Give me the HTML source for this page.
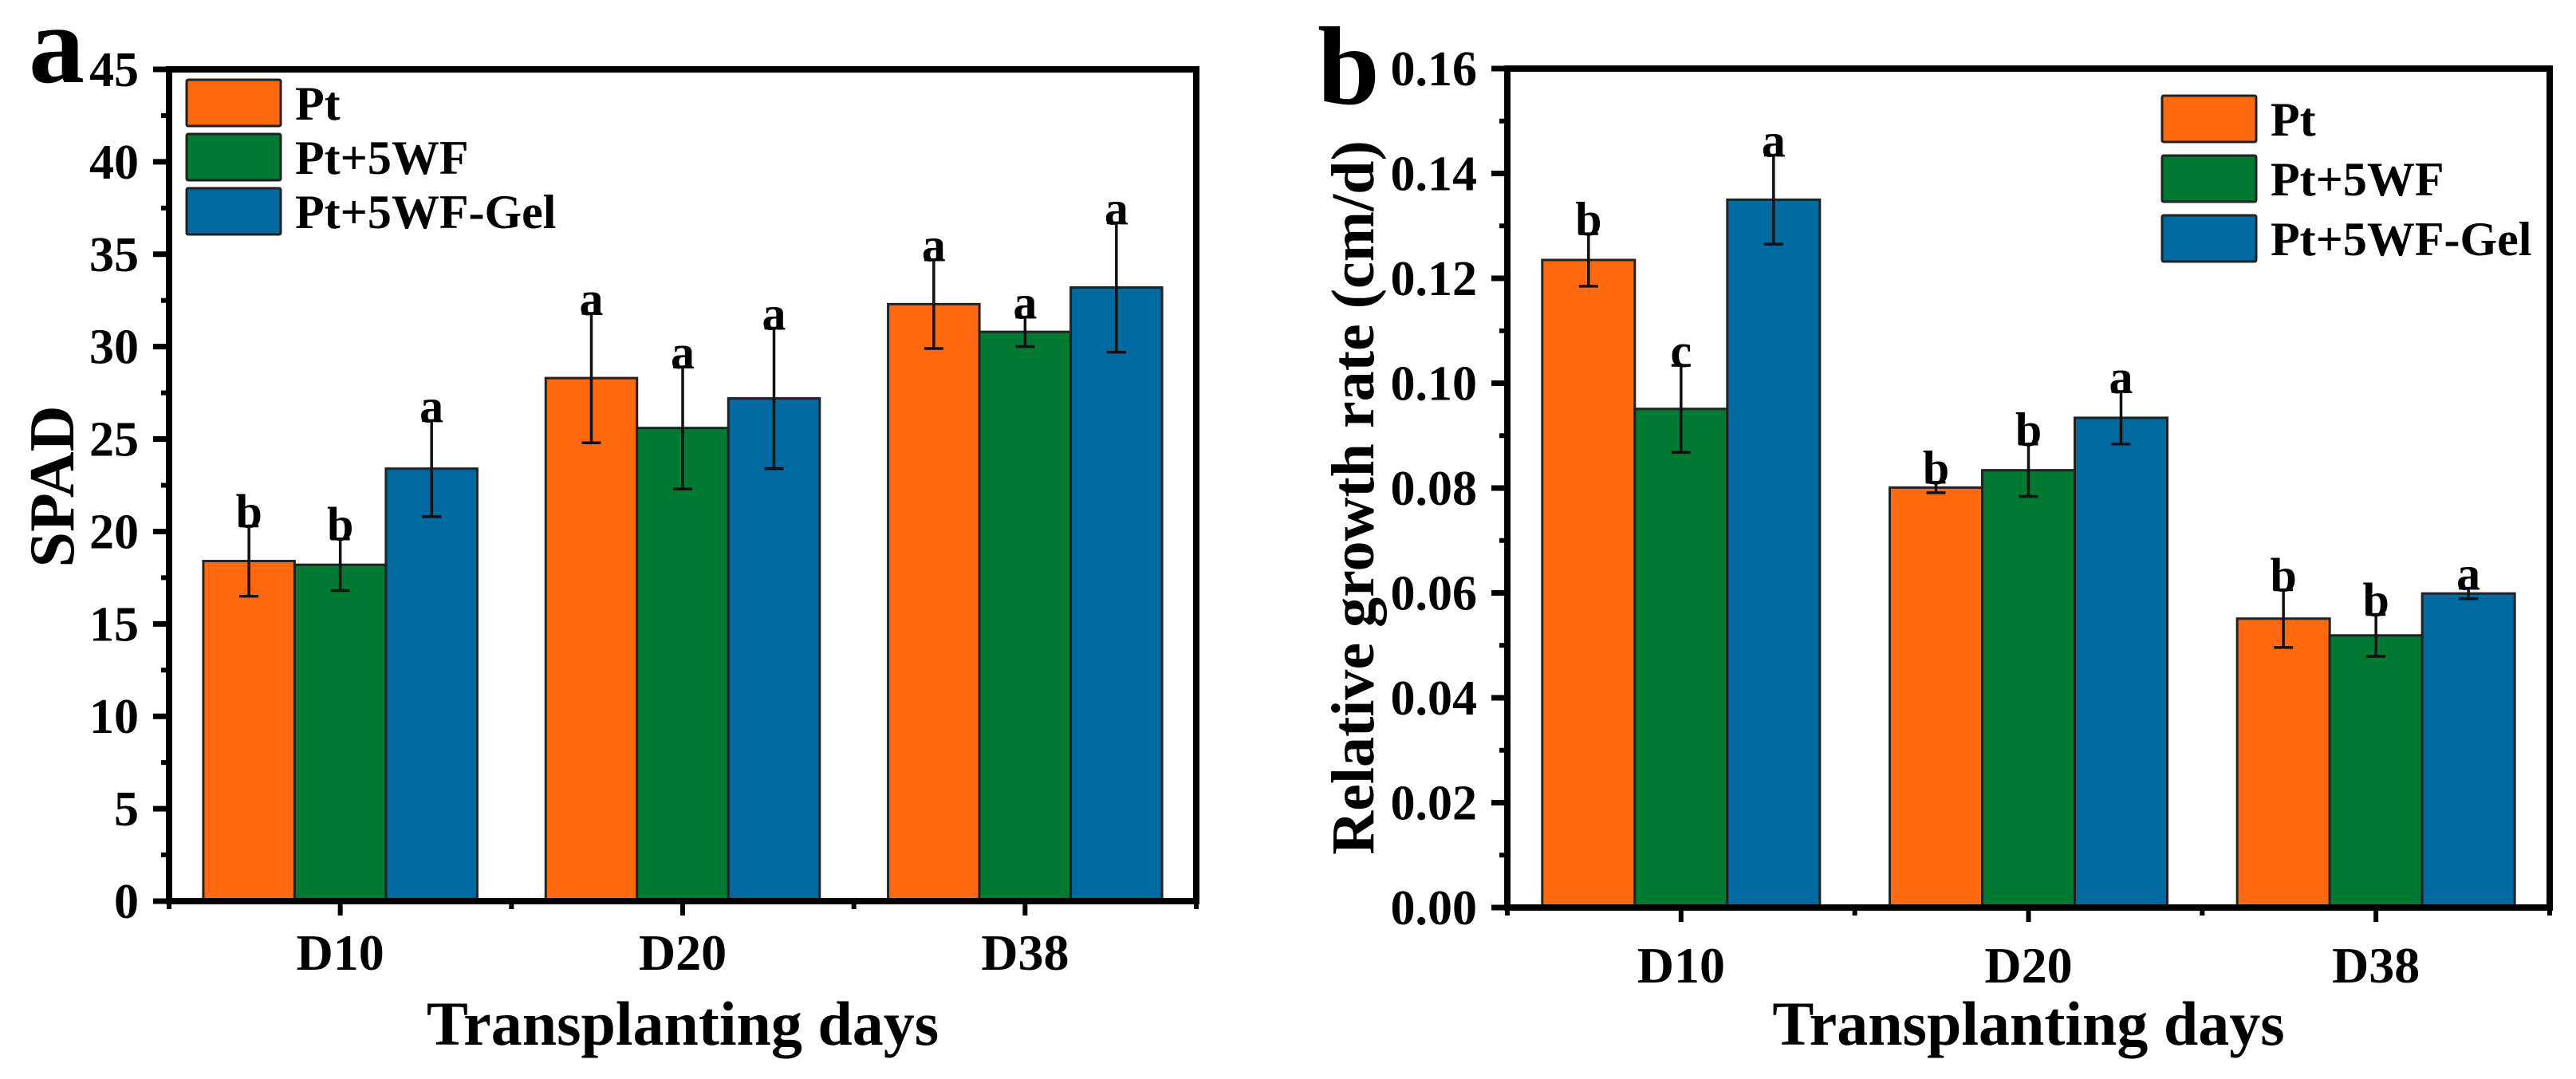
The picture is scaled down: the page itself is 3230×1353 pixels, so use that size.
<!DOCTYPE html>
<html><head><meta charset="utf-8">
<style>
html,body{margin:0;padding:0;background:#fff;}
svg{display:block;font-family:"Liberation Serif",serif;font-weight:bold;}
</style></head>
<body>
<svg id="fig" width="3230" height="1353" viewBox="0 0 3230 1353" xmlns="http://www.w3.org/2000/svg">
<g id="panelA"></g>
<g id="panelB"></g>
</svg>
<script>
const categories = ["D10", "D20", "D38"];
const seriesNames = ["Pt", "Pt+5WF", "Pt+5WF-Gel"];
const seriesColors = ["#FF6A10", "#007A33", "#0069A0"];

const spadPt = [18.4, 28.3, 32.3];
const spadWF = [18.2, 25.6, 30.8];
const spadGel = [23.4, 27.2, 33.2];
const spadErrPt = [1.9, 3.5, 2.4];
const spadErrWF = [1.4, 3.3, 0.8];
const spadErrGel = [2.6, 3.8, 3.5];
const spadLetters = [["b","a","a"],["b","a","a"],["a","a","a"]];
const spadTicks = [0,5,10,15,20,25,30,35,40,45];
const spadTickLabels = ["0","5","10","15","20","25","30","35","40","45"];

const rgrPt = [0.1235, 0.0801, 0.0551];
const rgrWF = [0.0951, 0.0834, 0.0519];
const rgrGel = [0.1350, 0.0934, 0.0599];
const rgrErrPt = [0.0050, 0.0010, 0.0055];
const rgrErrWF = [0.0083, 0.0050, 0.0040];
const rgrErrGel = [0.0085, 0.0050, 0.0010];
const rgrLetters = [["b","b","b"],["c","b","b"],["a","a","a"]];
const rgrTicks = [0,0.02,0.04,0.06,0.08,0.10,0.12,0.14,0.16];
const rgrTickLabels = ["0.00","0.02","0.04","0.06","0.08","0.10","0.12","0.14","0.16"];

const NS = "http://www.w3.org/2000/svg";
function mk(tag, attrs, parent){
  const e = document.createElementNS(NS, tag);
  for (const k in attrs) e.setAttribute(k, attrs[k]);
  parent.appendChild(e);
  return e;
}

function drawPanel(g, cfg){
  const L=cfg.left, R=cfg.right, T=cfg.top, B=cfg.bottom;
  const y = v => B - (v - cfg.ymin)/(cfg.ymax - cfg.ymin)*(B - T);
  const groupW = (R - L)/3;
  const xc = i => L + groupW*(i+0.5);
  const bw = cfg.barW;
  const vals = [cfg.s1, cfg.s2, cfg.s3];
  const errs = [cfg.e1, cfg.e2, cfg.e3];
  for (let s=0;s<3;s++){
    for (let i=0;i<3;i++){
      const x0 = xc(i) + (s-1.5)*bw;
      const r = mk("rect",{x:x0,y:y(vals[s][i]),width:bw,height:y(cfg.ymin)-y(vals[s][i]),fill:seriesColors[s],stroke:"#222","stroke-width":3},g);
      
      
    }
  }
  for (let s=0;s<3;s++){
    for (let i=0;i<3;i++){
      const cx = xc(i) + (s-1)*bw;
      const top = y(vals[s][i]+errs[s][i]), bot = y(vals[s][i]-errs[s][i]);
      const eg = mk("g",{stroke:"#111","stroke-width":3.5},g);
      
      
      mk("line",{x1:cx,y1:top,x2:cx,y2:bot},eg);
      mk("line",{x1:cx-12,y1:top,x2:cx+12,y2:top},eg);
      mk("line",{x1:cx-12,y1:bot,x2:cx+12,y2:bot},eg);
      const t = mk("text",{x:cx,y:top+2,"text-anchor":"middle","font-size":60,fill:"#000"},g);
      t.textContent = cfg.letters[s][i];
      
      
    }
  }
  const fr = mk("rect",{x:L,y:T,width:R-L,height:B-T,fill:"none",stroke:"#000","stroke-width":8},g);
  
  
  const yt = mk("g",{},g);
  
  
  for (let k=0;k<cfg.ticks.length;k++){
    const v = cfg.ticks[k], yy = y(v);
    mk("line",{x1:L-20,y1:yy,x2:L,y2:yy,stroke:"#000","stroke-width":7},yt);
    if (k<cfg.ticks.length-1){
      const vm = (v + cfg.ticks[k+1])/2;
      mk("line",{x1:L-10,y1:y(vm),x2:L,y2:y(vm),stroke:"#000","stroke-width":6},yt);
    }
    const t = mk("text",{x:L-38,y:yy+21,"text-anchor":"end","font-size":62,fill:"#000"},yt);
    t.textContent = cfg.tickLabels[k];
    
    
  }
  const xt = mk("g",{},g);
  
  
  for (let i=0;i<3;i++){
    mk("line",{x1:xc(i),y1:B,x2:xc(i),y2:B+18,stroke:"#000","stroke-width":6},xt);
    const t = mk("text",{x:xc(i),y:cfg.catY,"text-anchor":"middle","font-size":64,fill:"#000"},xt);
    t.textContent = categories[i];
    
    
  }
  for (let i=0;i<=3;i++){
    mk("line",{x1:L+groupW*i,y1:B,x2:L+groupW*i,y2:B+10,stroke:"#000","stroke-width":6},xt);
  }
  const xtT = mk("text",{x:(L+R)/2,y:cfg.xTitleY,"text-anchor":"middle","font-size":78,fill:"#000"},g);
  xtT.textContent = "Transplanting days";
  
  
  const ytT = mk("text",{x:0,y:0,"text-anchor":"middle","font-size":cfg.yTitleSize,fill:"#000",transform:"translate("+cfg.yTitleX+","+cfg.yTitleY+") rotate(-90)"},g);
  ytT.textContent = cfg.yTitle;
  
  
  const lg = mk("g",{},g);
  
  
  for (let s=0;s<3;s++){
    const yy = cfg.legY + s*cfg.legStep;
    const le = mk("g",{},lg);
    
    
    mk("rect",{x:cfg.legX,y:yy,width:118,height:58,fill:seriesColors[s],stroke:"#222","stroke-width":3,rx:2},le);
    const t = mk("text",{x:cfg.legX+136,y:yy+50,"font-size":60,fill:"#000"},le);
    t.textContent = seriesNames[s];
  }
  const pl = mk("text",{x:cfg.labelX,y:cfg.labelY,"font-size":140,fill:"#000"},g);
  pl.textContent = cfg.label;
  
  
}

drawPanel(document.getElementById("panelA"), {
  left:212, right:1500, top:87, bottom:1130, ymin:0, ymax:45, barW:114.5,
  s1:spadPt, s2:spadWF, s3:spadGel, e1:spadErrPt, e2:spadErrWF, e3:spadErrGel,
  letters:spadLetters, ticks:spadTicks, tickLabels:spadTickLabels,
  catY:1216, xTitleY:1310, yTitle:"SPAD", yTitleX:92, yTitleY:610, yTitleSize:80,
  legX:234, legY:100, legStep:68, label:"a", labelX:36, labelY:103
});
drawPanel(document.getElementById("panelB"), {
  left:1890, right:3197, top:86, bottom:1138, ymin:0, ymax:0.16, barW:116,
  s1:rgrPt, s2:rgrWF, s3:rgrGel, e1:rgrErrPt, e2:rgrErrWF, e3:rgrErrGel,
  letters:rgrLetters, ticks:rgrTicks, tickLabels:rgrTickLabels,
  catY:1232, xTitleY:1310, yTitle:"Relative growth rate (cm/d)", yTitleX:1722, yTitleY:624, yTitleSize:76,
  legX:2711, legY:120, legStep:75, label:"b", labelX:1652, labelY:130
});
</script>
</body></html>
